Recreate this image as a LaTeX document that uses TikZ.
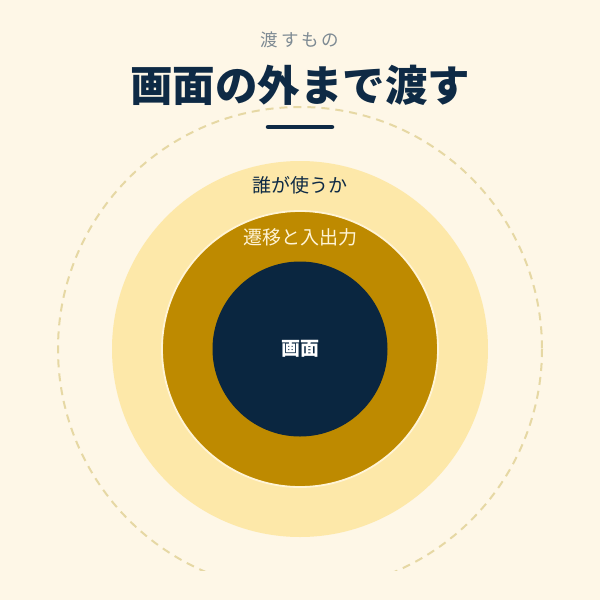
\documentclass[tikz,border=0pt]{standalone}
\usepackage{fontspec}
\setmainfont{Noto Sans CJK JP}
\newfontfamily\cjk{Noto Sans CJK JP}
\definecolor{bgcream}{HTML}{FEF7E7}
\definecolor{ringlight}{HTML}{FDE8A9}
\definecolor{ringgold}{HTML}{BE8A00}
\definecolor{corenavy}{HTML}{0A2640}
\definecolor{titlenavy}{HTML}{0E2A45}
\definecolor{subgray}{HTML}{7D8A93}
\definecolor{dashline}{HTML}{E6D8A4}
\definecolor{creamtext}{HTML}{FFF4D6}
\tikzset{
  lbl/.style={inner sep=0pt, font=\cjk\fontsize{19}{22}\selectfont},
}
\begin{document}
\begin{tikzpicture}[x=1pt,y=-1pt]
\fill[bgcream] (0,0) rectangle (600,600);
\useasboundingbox (0,0) rectangle (600,600);
\coordinate (c) at (300,349);
\begin{scope}
\clip (0,0) rectangle (600,570);
\draw[dashline, line width=2pt, dash pattern=on 8pt off 6pt] (c) circle[radius=242];
\end{scope}
\fill[ringlight] (c) circle[radius=188];
\draw[ringgold, fill=ringgold] (c) circle[radius=137.5];
\draw[creamtext, line width=1.8pt] (c) circle[radius=138];
\fill[corenavy] (c) circle[radius=87.5];
\node[inner sep=0pt, text=subgray, font=\cjk\fontsize{17.5}{20}\selectfont\addfontfeature{LetterSpace=16}] (sub) at (300,40) {渡すもの};
\node[inner sep=0pt, text=titlenavy, font=\cjk\bfseries\fontsize{42.5}{48}\selectfont] (title) at (300,85) {画面の外まで渡す};
\coordinate (ula) at (268,127);
\coordinate (ulb) at (332,127);
\draw[titlenavy, line width=4.5pt, line cap=round] (ula) -- (ulb);
\node[lbl, text=titlenavy] (who) at (300,185) {誰が使うか};
\node[lbl, text=creamtext] (flow) at (300,237) {遷移と入出力};
\node[inner sep=0pt, text=white, font=\cjk\bfseries\fontsize{19}{22}\selectfont] (screen) at (300,349) {画面};
\end{tikzpicture}
\end{document}
